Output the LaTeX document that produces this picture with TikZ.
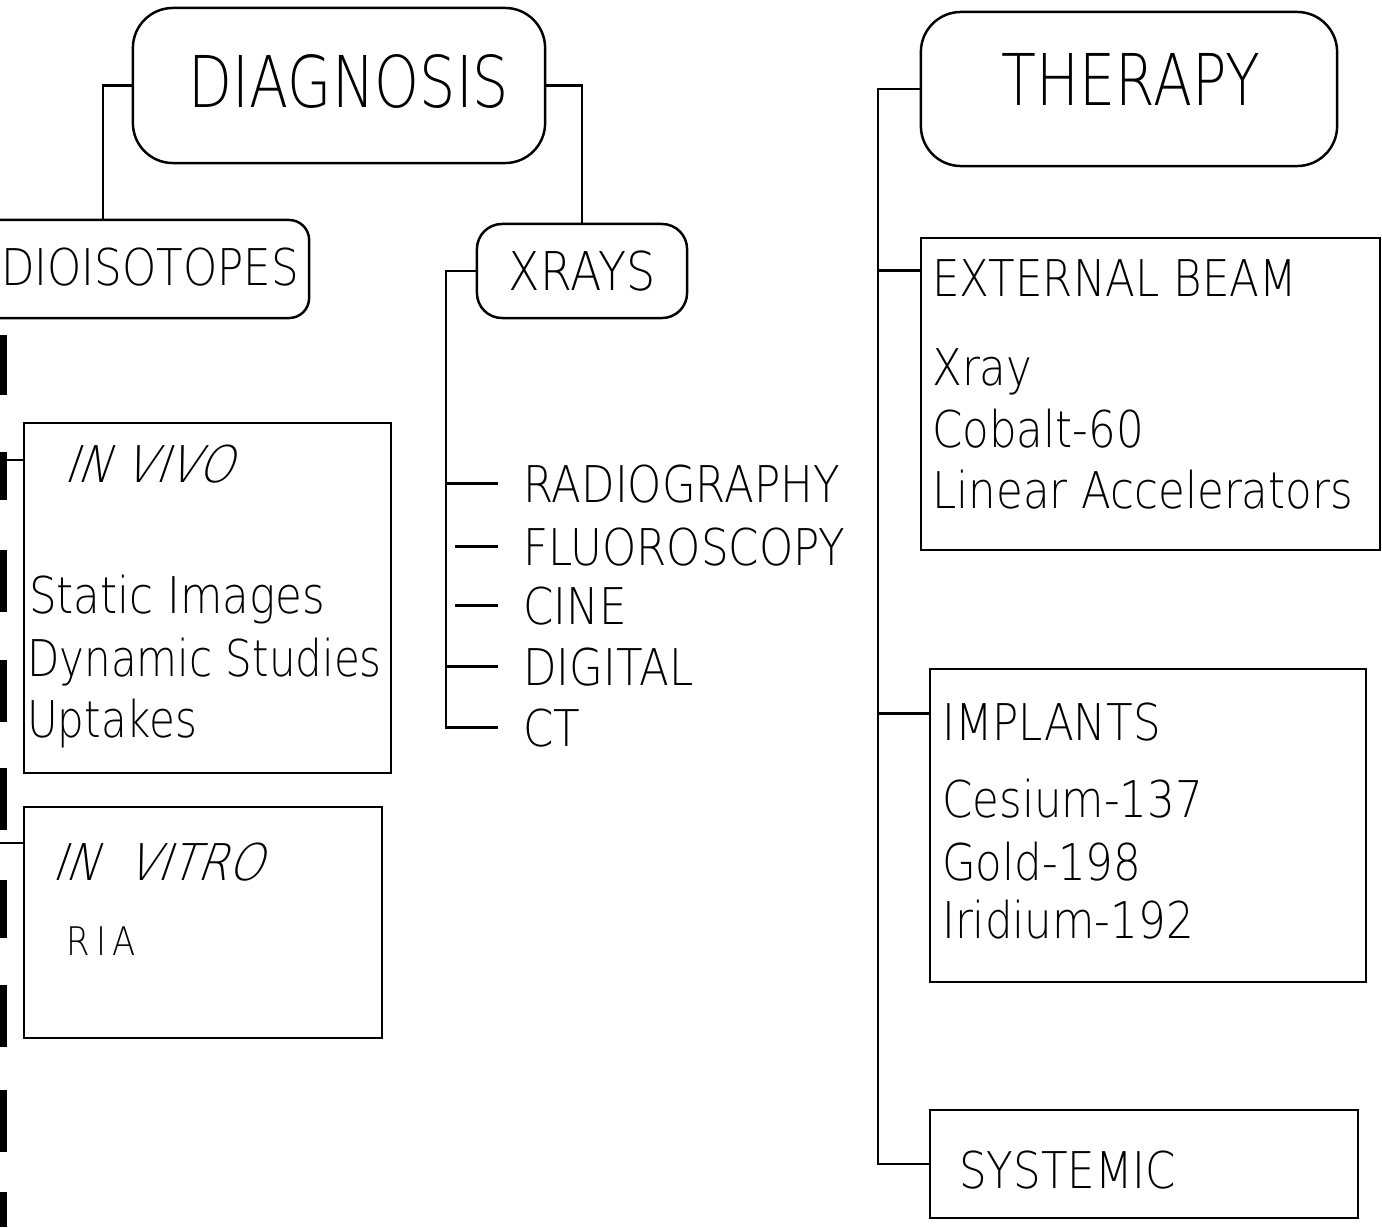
\documentclass[tikz,border=0pt]{standalone}
\usepackage{fontspec}
\usetikzlibrary{calc}
\IfFontExistsTF{DejaVu Sans ExtraLight}{%
  \newfontfamily\plotfont{DejaVu Sans ExtraLight}[FakeStretch=0.86]
  \newfontfamily\plotnarrow{DejaVu Sans ExtraLight}[FakeStretch=0.83]
  \newfontfamily\plotwide{DejaVu Sans ExtraLight}[FakeStretch=0.80]
  \newfontfamily\plotslant{DejaVu Sans ExtraLight}[FakeStretch=0.88,FakeSlant=0.35]
}{%
  \newfontfamily\plotfont{Liberation Sans}[FakeStretch=0.90]
  \newfontfamily\plotnarrow{Liberation Sans}[FakeStretch=0.87]
  \newfontfamily\plotwide{Liberation Sans}[FakeStretch=0.82]
  \newfontfamily\plotslant{Liberation Sans}[FakeStretch=0.90,FakeSlant=0.35]
}
\tikzset{
  rbox/.style={draw, rounded corners=0.4cm, inner sep=0},
  sbox/.style={draw, inner sep=0},
  ttl/.style={anchor=base, inner sep=0, font=\plotwide\fontsize{20.3}{24}\selectfont},
  lbl/.style={font=\plotfont\fontsize{14.4}{17}\selectfont},
  txt/.style={anchor=base west, inner sep=0, lbl},
  ital/.style={anchor=base west, inner sep=0, font=\plotslant\fontsize{14.4}{17}\selectfont},
}
\begin{document}
\begin{tikzpicture}[x=0.01cm, y=-0.01cm, line width=0.7pt]
  \useasboundingbox (0,0) rectangle (1382,1227);
  \clip (0,0) rectangle (1382,1227);

  % Diagnosis branch
  \node[rbox, minimum width=4.12cm, minimum height=1.55cm] (diag) at (339,85.5) {};
  \node[ttl] (diagt) at (349,107) {DIAGNOSIS};
  \node[rbox, rounded corners=0.2cm, minimum width=4.6cm, minimum height=0.98cm] (radio) at (79,269) {};
  \node[txt] (radiot) at (0,285) {DIOISOTOPES};
  \node[rbox, font=\plotfont\fontsize{15.2}{18}\selectfont, rounded corners=0.25cm, minimum width=2.1cm, minimum height=0.94cm] (xray) at (582,271) {XRAYS};
  \coordinate (dl) at (103,87);
  \draw (diag.west) -- (diag.west -| dl) -- (dl |- radio.north);
  \draw (diag.east) -| (xray.north);

  % Xray methods
  \node[txt] (rad) at (522,502) {RADIOGRAPHY};
  \node[txt] (flu) at (522,565) {FLUOROSCOPY};
  \node[txt] (cine) at (522,624) {CINE};
  \node[txt] (dig) at (522,685) {DIGITAL};
  \node[txt] (ct) at (522,746) {CT};
  \coordinate (xl) at (446,270);
  \draw (xray.west) -| (xl |- ct.west) -- ($(ct.west)+(-24,0)$);
  \draw (xl |- rad.west) -- ($(rad.west)+(-24,0)$);
  \draw ($(xl |- flu.west)+(9,0)$) -- ($(flu.west)+(-24,0)$);
  \draw ($(xl |- cine.west)+(9,0)$) -- ($(cine.west)+(-24,0)$);
  \draw (xl |- dig.west) -- ($(dig.west)+(-24,0)$);

  % Radioisotope studies
  \node[sbox, minimum width=3.67cm, minimum height=3.5cm] (vivo) at (207.5,598) {};
  \node[ital] (vivot) at (62,482) {IN VIVO};
  \node[txt] (stat) at (28,613) {Static Images};
  \node[txt, font=\plotnarrow\fontsize{14.4}{17}\selectfont] (dyn) at (26,676) {Dynamic Studies};
  \node[txt, font=\plotnarrow\fontsize{14.4}{17}\selectfont] (upt) at (26,737) {Uptakes};
  \node[sbox, minimum width=3.58cm, minimum height=2.31cm] (vitro) at (203,922.5) {};
  \node[ital] (vitrot) at (50,880) {IN\ \ VITRO};
  \node[txt, font=\plotfont\fontsize{11.2}{13}\selectfont] (ria) at (65,955) {R\,I\,A};
  \coordinate (vl) at (0,460);
  \coordinate (wl) at (0,843);
  \draw (vl) -- (vl -| vivo.west);
  \draw (wl) -- (wl -| vitro.west);
  \foreach \a/\b in {335/395, 452/500, 550/612, 660/722, 768/830, 880/938, 985/1047, 1090/1152, 1192/1227}
    \draw[line width=0.08cm] (3,\a) -- (3,\b);

  % Therapy branch
  \node[rbox, minimum width=4.16cm, minimum height=1.54cm] (ther) at (1129,89) {};
  \node[ttl] (thert) at (1131,105) {THERAPY};
  \node[sbox, minimum width=4.59cm, minimum height=3.12cm] (beam) at (1150.5,394) {};
  \node[txt] (beamt) at (931,296) {EXTERNAL BEAM};
  \node[txt] (xr) at (931,385) {Xray};
  \node[txt] (co) at (931,447) {Cobalt-60};
  \node[txt] (lin) at (931,508) {Linear Accelerators};
  \node[sbox, minimum width=4.36cm, minimum height=3.13cm] (impl) at (1148,825.5) {};
  \node[txt] (implt) at (941,740) {IMPLANTS};
  \node[txt] (ces) at (941,817) {Cesium-137};
  \node[txt] (gold) at (941,880) {Gold-198};
  \node[txt] (iri) at (941,938) {Iridium-192};
  \node[sbox, minimum width=4.28cm, minimum height=1.08cm] (syst) at (1144,1164) {};
  \node[txt] (systt) at (958,1188) {SYSTEMIC};
  \coordinate (tl) at (878,93);
  \coordinate (bj) at ($(beam.north west)+(0,34)$);
  \coordinate (ij) at ($(impl.north west)+(0,46)$);
  \draw (ther.west) -- (ther.west -| tl) -- (tl |- syst.west) -- (syst.west);
  \draw (tl |- bj) -- (bj);
  \draw (tl |- ij) -- (ij);
\end{tikzpicture}
\end{document}
